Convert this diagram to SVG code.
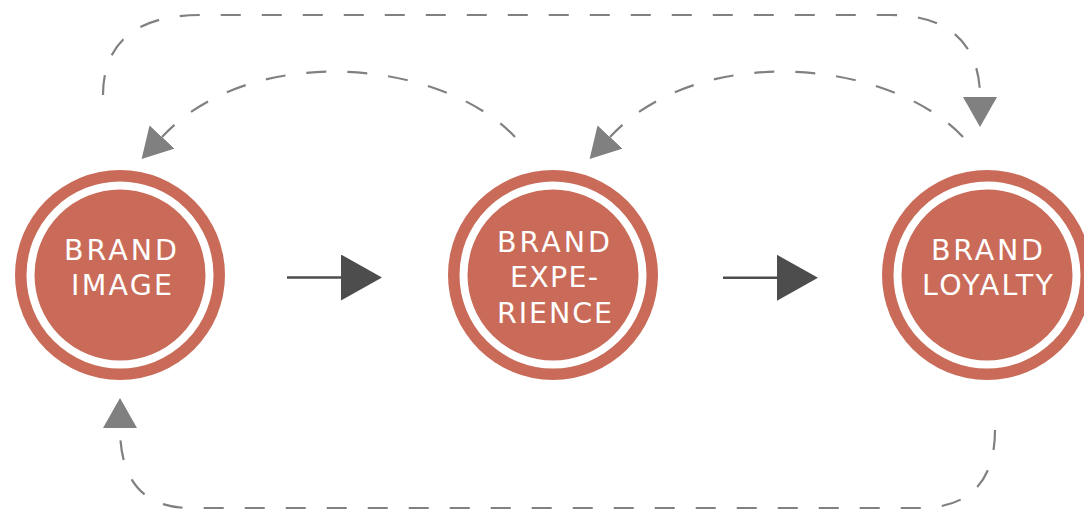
<svg xmlns="http://www.w3.org/2000/svg" width="1084" height="519" viewBox="0 0 1084 519">
<style>
.ring{fill:#c96b58}
.core{fill:#c96b58;stroke:#ffffff;stroke-width:8}
.lbl{font-family:"DejaVu Sans","Open Sans","Liberation Sans",sans-serif;font-size:28.5px;fill:#ffffff;text-anchor:middle}
.dash{fill:none;stroke:#808080;stroke-width:2.2;stroke-dasharray:20 21}
.solid{fill:none;stroke:#4d4d4d;stroke-width:2.5}
</style>
<defs>
<marker id="grayHead" markerUnits="userSpaceOnUse" viewBox="0 0 30 34" refX="0" refY="17" markerWidth="30" markerHeight="34" orient="auto">
<path d="M0,0 L30,17 L0,34 Z" fill="#808080"/>
</marker>
<marker id="darkHead" markerUnits="userSpaceOnUse" viewBox="0 0 41 46" refX="0" refY="23" markerWidth="41" markerHeight="46" orient="auto">
<path d="M0,0 L41,23 L0,46 Z" fill="#4d4d4d"/>
</marker>
</defs>
<g id="connectors">
<path class="solid" d="M287,277.5 L341,277.5" marker-end="url(#darkHead)"/>
<path class="solid" d="M723,277.8 L777,277.8" marker-end="url(#darkHead)"/>
<path class="dash" d="M515,137 C440,58 250,42 162,137" marker-end="url(#grayHead)"/>
<path class="dash" d="M963,137 C888,58 698,42 610,137" marker-end="url(#grayHead)"/>
<path class="dash" d="M103,95 C103,40 140,15 200,15 L890,15 C950,15 980,45 980,97" marker-end="url(#grayHead)"/>
<path class="dash" d="M995,430 C995,483 968,508 920,508 L190,508 C145,508 120,482 120,428" marker-end="url(#grayHead)"/>
</g>
<g id="node-brand-image">
<circle class="ring" cx="120" cy="275" r="105"/>
<circle class="core" cx="120" cy="275" r="89.5"/>
<text class="lbl" x="120.5" y="260" textLength="113" lengthAdjust="spacing">BRAND</text>
<text class="lbl" x="121.5" y="295" textLength="101" lengthAdjust="spacing">IMAGE</text>
</g>
<g id="node-brand-experience">
<circle class="ring" cx="553" cy="275" r="105"/>
<circle class="core" cx="553" cy="275" r="89.5"/>
<text class="lbl" x="553.5" y="252" textLength="113" lengthAdjust="spacing">BRAND</text>
<text class="lbl" x="554" y="287" textLength="88" lengthAdjust="spacing">EXPE-</text>
<text class="lbl" x="554.5" y="323" textLength="115" lengthAdjust="spacing">RIENCE</text>
</g>
<g id="node-brand-loyalty">
<circle class="ring" cx="987" cy="275" r="105"/>
<circle class="core" cx="987" cy="275" r="89.5"/>
<text class="lbl" x="987" y="260" textLength="112" lengthAdjust="spacing">BRAND</text>
<text class="lbl" x="987.5" y="295" textLength="131" lengthAdjust="spacing">LOYALTY</text>
</g>
</svg>
